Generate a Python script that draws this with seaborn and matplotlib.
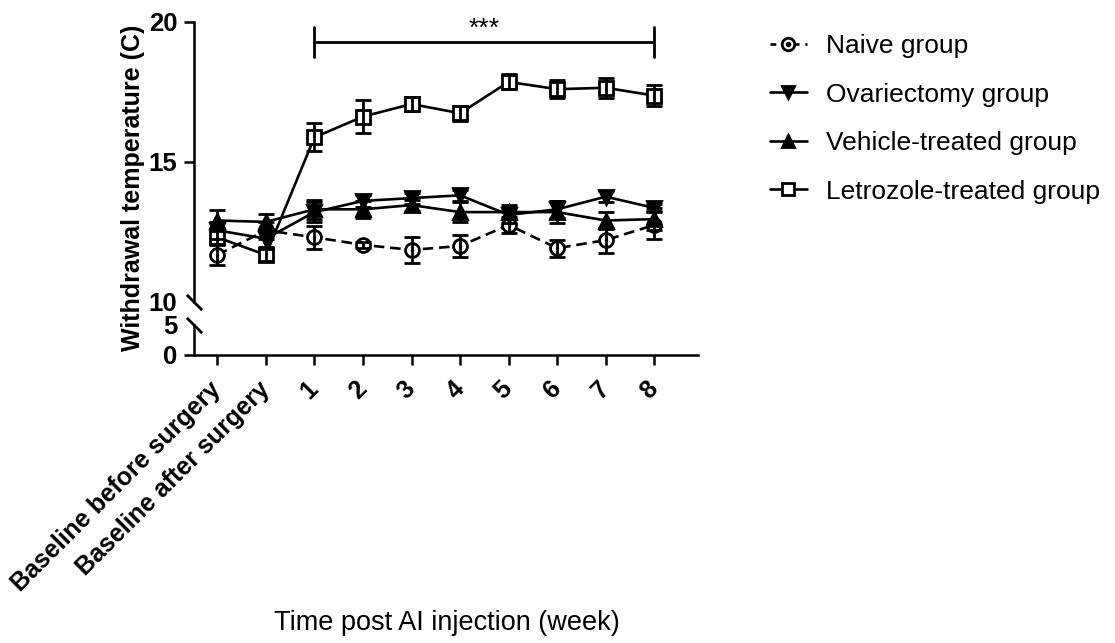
import numpy as np
import pandas as pd
import matplotlib
matplotlib.use("Agg")
import matplotlib.pyplot as plt
import seaborn as sns
from matplotlib.lines import Line2D
from matplotlib.legend_handler import HandlerTuple

# ---------------- data ----------------
categories = ["Baseline before surgery", "Baseline after surgery",
              "1", "2", "3", "4", "5", "6", "7", "8"]
naive_mean = [11.67, 12.55, 12.30, 12.03, 11.85, 11.99, 12.74, 11.91, 12.20, 12.74]
naive_err = [0.35, 0.30, 0.40, 0.10, 0.45, 0.40, 0.30, 0.30, 0.45, 0.50]
ovx_mean = [12.55, 12.25, 13.20, 13.60, 13.70, 13.80, 13.10, 13.30, 13.75, 13.35]
ovx_err = [0.30, 0.30, 0.35, 0.20, 0.20, 0.20, 0.30, 0.30, 0.20, 0.15]
veh_mean = [12.90, 12.85, 13.30, 13.30, 13.45, 13.20, 13.20, 13.20, 12.90, 12.95]
veh_err = [0.38, 0.30, 0.35, 0.30, 0.20, 0.35, 0.25, 0.40, 0.30, 0.40]
let_mean = [12.30, 11.67, 15.87, 16.61, 17.06, 16.73, 17.85, 17.59, 17.64, 17.36]
let_err = [0.25, 0.20, 0.50, 0.60, 0.25, 0.27, 0.27, 0.33, 0.35, 0.38]
series_names = ["Naive group", "Ovariectomy group",
                "Vehicle-treated group", "Letrozole-treated group"]
sig_label = "***"
sig_range = (2, 9)

# ---------------- style ----------------
sns.set_theme(style="ticks")
plt.rcParams["font.family"] = ["Liberation Sans", "DejaVu Sans"]
plt.rcParams.update({
    "axes.linewidth": 1.8,
    "text.color": "black",
    "axes.labelcolor": "black",
    "axes.edgecolor": "black",
    "xtick.color": "black",
    "ytick.color": "black",
})

W, H = 1115, 643
fig = plt.figure(figsize=(W / 100, H / 100), dpi=100)
left, right = 194 / W, 698 / W
ax = fig.add_axes([left, 1 - 301.7 / H, right - left, 280 / H])
axb = fig.add_axes([left, 1 - 355 / H, right - left, 30 / H], sharex=ax)

x = np.arange(len(categories))
lw = 1.9
msz = 10
styles = [
    dict(mean=naive_mean, err=naive_err, marker="o", ls="--", mfc="white"),
    dict(mean=ovx_mean, err=ovx_err, marker="v", ls="-", mfc="black"),
    dict(mean=veh_mean, err=veh_err, marker="^", ls="-", mfc="black"),
    dict(mean=let_mean, err=let_err, marker="s", ls="-", mfc="white"),
]

for i, (name, st) in enumerate(zip(series_names, styles)):
    df = pd.DataFrame({"x": x, "y": st["mean"]})
    sns.lineplot(data=df, x="x", y="y", ax=ax, color="black", linewidth=lw,
                 linestyle=st["ls"], marker=st["marker"], markersize=msz,
                 markerfacecolor=st["mfc"], markeredgecolor="black",
                 markeredgewidth=2, errorbar=None, sort=False, legend=False,
                 zorder=2 + i * 0.1)
    if st["ls"] == "--":
        ax.lines[-1].set_dashes((4, 2.2))
    ax.errorbar(x, st["mean"], yerr=st["err"], fmt="none", ecolor="black",
                elinewidth=2, capsize=6, capthick=2, zorder=3 + i * 0.1)
    if st["marker"] == "o":
        sns.scatterplot(x=x, y=st["mean"], ax=ax, color="black", s=6,
                        linewidth=0, legend=False, zorder=4)

# axes limits / spines
ax.set_xlim(-0.48, 9.9)
ax.set_ylim(10, 20)
axb.set_ylim(0, 5)
ax.set_yticks([10, 15, 20])
axb.set_yticks([0, 5])
for a in (ax, axb):
    sns.despine(ax=a)
    a.tick_params(axis="both", width=1.8, length=7, labelsize=18.5, pad=5,
                  color="black", labelcolor="black")
    for lab in a.get_yticklabels():
        lab.set_fontweight("bold")
ax.spines["bottom"].set_visible(False)
ax.tick_params(axis="x", bottom=False, labelbottom=False)
ax.set_xlabel("")
ax.set_ylabel("")
axb.set_ylabel("")
ax.yaxis.get_major_ticks()[0].tick1line.set_visible(False)
axb.yaxis.get_major_ticks()[1].tick1line.set_visible(False)

axb.set_xticks(x)
axb.set_xticklabels(categories, rotation=45, ha="right", va="center",
                    rotation_mode="anchor", fontweight="bold", fontsize=18)
axb.tick_params(axis="x", pad=15)
axb.set_xlabel("")

# break marks
bk = dict(marker=[(-1, 1), (1, -1)], markersize=11, linestyle="none",
          color="black", mec="black", mew=2, clip_on=False)
ax.plot([0], [0], transform=ax.transAxes, **bk)
axb.plot([0], [1], transform=axb.transAxes, **bk)

# significance bracket
ax.plot([sig_range[0], sig_range[1]], [19.29, 19.29], color="black", lw=2,
        clip_on=False)
for xs in sig_range:
    ax.plot([xs, xs], [18.75, 19.8], color="black", lw=2, clip_on=False)
ax.text((sig_range[0] + sig_range[1]) / 2, 19.48, sig_label, ha="center",
        va="baseline", fontsize=19)

# axis labels
fig.text(133 / W, 1 - 188 / H, "Withdrawal temperature (C)", rotation=90,
         ha="center", va="center", fontsize=18, fontweight="bold")
fig.text(447 / W, 1 - 623 / H, "Time post AI injection (week)",
         ha="center", va="center", fontsize=19.5)

# legend
handles = []
for st in styles:
    if st["marker"] == "o":
        ln = Line2D([], [], color="black", lw=lw, linestyle="--")
        ln.set_dashes((2.2, 2.2))
        mk = Line2D([], [], color="black", linestyle="none", marker="o",
                    markersize=msz - 1, markerfacecolor="white",
                    markeredgecolor="black", markeredgewidth=2)
        dot = Line2D([], [], color="black", linestyle="none", marker="o",
                     markersize=3)
        h = (ln, mk, dot)
    else:
        h = Line2D([], [], color="black", lw=lw, linestyle=st["ls"],
                   marker=st["marker"], markersize=msz - 1,
                   markerfacecolor=st["mfc"], markeredgecolor="black",
                   markeredgewidth=2)
    handles.append(h)
fig.legend(handles, series_names, loc="upper left",
           bbox_to_anchor=(770 / W, 1 - 34 / H), frameon=False, fontsize=19,
           handlelength=1.4, handletextpad=0.72, labelspacing=0.93,
           borderpad=0, borderaxespad=0,
           handler_map={tuple: HandlerTuple(ndivide=1, pad=0)})

fig.savefig("out.png", dpi=100)
